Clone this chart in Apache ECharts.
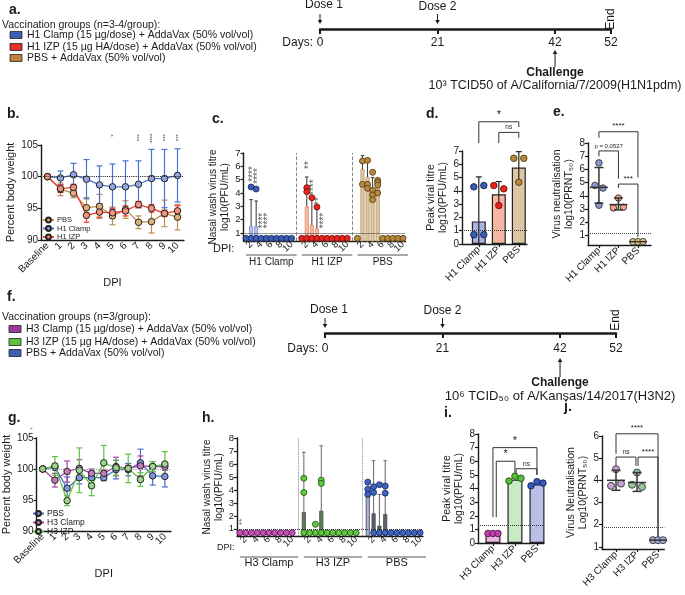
<!DOCTYPE html>
<html>
<head>
<meta charset="utf-8">
<script src="https://cdn.jsdelivr.net/npm/echarts@6.0.0/dist/echarts.min.js"></script>
<style>
html,body{margin:0;padding:0;background:#ffffff;}
#chart{width:685px;height:595px;}
</style>
</head>
<body>
<div id="chart"></div>
<script>
// ======================= DATA =======================
// Timelines (panels a, f)
const timelineTicks = [0, 21, 42, 52];
const doseDays = [0, 21];
const doseNames = ['Dose 1', 'Dose 2'];
const challengeDay = 42;
const endDay = 52;
const groupsA = ['H1 Clamp (15 µg/dose) + AddaVax (50% vol/vol)', 'H1 IZP (15 µg HA/dose) + AddaVax (50% vol/vol)', 'PBS + AddaVax (50% vol/vol)'];
const groupsF = ['H3 Clamp (15 µg/dose) + AddaVax (50% vol/vol)', 'H3 IZP (15 µg HA/dose) + AddaVax (50% vol/vol)', 'PBS + AddaVax (50% vol/vol)'];
const challengeTextA = '10³ TCID50 of A/California/7/2009(H1N1pdm)';
const challengeTextF = '10⁶ TCID₅₀ of A/Kansas/14/2017(H3N2)';

// Panel b – percent body weight, H1
const weightDays = ['Baseline', '1', '2', '3', '4', '5', '6', '7', '8', '9', '10'];
const bPbsMean   = [100, 98.0, 97.4, 95.1, 95.3, 93.8, 94.8, 92.8, 92.9, 94.2, 93.6];
const bPbsSd     = [0, 1.0, 0.7, 1.6, 1.9, 1.4, 1.4, 1.0, 1.8, 2.1, 2.0];
const bClampMean = [100, 99.8, 100.3, 99.6, 98.7, 98.4, 98.4, 98.8, 99.7, 99.7, 100.2];
const bClampSd   = [0, 1.1, 1.8, 3.1, 3.0, 3.6, 4.1, 3.7, 4.6, 4.6, 4.2];
const bIzpMean   = [100, 98.1, 98.3, 93.9, 94.4, 94.3, 94.6, 95.6, 95.0, 94.2, 94.6];
const bIzpSd     = [0, 0.6, 0.5, 1.1, 0.8, 0.7, 0.8, 0.5, 0.6, 0.5, 0.8];
const bStars = [[5, 106.3, '*'], [7, 105.6, '***'], [8, 105.3, '****'], [9, 105.6, '***'], [10, 105.6, '***']];

// Panel c – nasal wash titre, H1
const dpiDays = ['1', '2', '3', '4', '5', '6', '7', '8', '9', '10'];
const cGroups = ['H1 Clamp', 'H1 IZP', 'PBS'];
const cClampBar = [0.6, 1.55, 1.5, 0.6, 0.6, 0.6, 0.6, 0.6, 0.6, 0.6];
const cIzpBar   = [0.6, 3.0, 1.6, 1.35, 0.6, 0.6, 0.6, 0.6, 0.6, 0.6];
const cPbsBar   = [0.6, 5.8, 5.2, 4.25, 4.55, 0.6, 0.6, 0.6, 0.6, 0.6];
const cClampHi  = [null, 3.5, 3.4, null, null, null, null, null, null, null];
const cIzpHi    = [null, 5.2, 3.5, 2.8, null, null, null, null, null, null];
const cPbsHi    = [null, 6.8, 6.3, 5.15, 5.0, null, null, null, null, null];
const cClampPts = [[0.6], [4.45, 0.6], [4.3, 0.6], [0.6], [0.6], [0.6], [0.6], [0.6], [0.6], [0.6]];
const cIzpPts   = [[0.6], [4.4, 4.1, 0.6], [3.65, 0.6], [2.95, 0.6], [0.6], [0.6], [0.6], [0.6], [0.6], [0.6]];
const cPbsPts   = [[0.6], [6.4, 4.65], [6.45, 4.65, 4.35], [5.55, 4.2, 3.85, 3.5], [4.95, 4.8, 4.6, 4.0], [0.6], [0.6], [0.6], [0.6], [0.6]];
const cStars = [[0, 2, 4.85, '****'], [0, 3, 4.7, '****'], [0, 4, 1.35, '****'], [0, 5, 1.35, '****'],
                [1, 2, 5.8, '**'], [1, 3, 3.85, '****'], [1, 4, 3.1, '**'], [1, 5, 1.35, '****']];

// Panel d – peak viral titre, H1
const dGroups = ['H1 Clamp', 'H1 IZP', 'PBS'];
const dMean = [1.7, 3.75, 5.75];
const dLo   = [0, 2.8, 4.55];
const dHi   = [5.05, 4.7, 6.95];
const dPts  = [[4.3, 4.4, 0.7, 0.7], [4.4, 4.15, 2.9], [6.45, 6.45, 4.65]];
const dBrackets = [[0, 2, 9.2, 7.6, 8.8], [1, 2, 8.4, 7.6, 8.0]];
const dBracketLabels = ['*', 'ns'];

// Panel e – virus neutralisation, H1
const eGroups = ['H1 Clamp', 'H1 IZP', 'PBS'];
const eMean = [4.65, 3.35, 0.55];
const eLo   = [3.45, 2.95, 0.55];
const eHi   = [6.15, 3.85, 0.55];
const ePts  = [[6.5, 4.8, 4.6, 3.3], [3.85, 3.1, 3.15], [0.55, 0.55, 0.55]];
const eBrackets = [[0, 2, 8.85, 8.4, 5.4], [0, 1, 7.4, 7.0, 5.3], [1, 2, 4.9, 4.6, 0.9]];
const eBracketLabels = ['****', 'p = 0.0527', '***'];

// Panel g – percent body weight, H3
const gPbsMean   = [100, 100.3, 96.9, 98.6, 98.6, 98.6, 99.9, 99.9, 101.0, 98.9, 98.8];
const gPbsSd     = [0, 0.5, 1.8, 1.0, 1.0, 0.5, 1.5, 1.0, 2.2, 1.5, 1.7];
const gClampMean = [100, 98.2, 99.6, 100.1, 99.3, 99.3, 100.4, 100.1, 100.5, 100.4, 100.4];
const gClampSd   = [0, 1.1, 1.7, 1.4, 0.7, 0.5, 1.5, 0.5, 1.6, 0.8, 0.6];
const gIzpMean   = [100, 100.5, 94.9, 99.8, 97.3, 101.0, 100.2, 100.1, 98.3, 100.4, 100.8];
const gIzpSd     = [0, 1.5, 0.8, 3.6, 1.6, 2.8, 1.2, 2.3, 1.1, 0.8, 2.0];

// Panel h – nasal wash titre, H3
const hGroups = ['H3 Clamp', 'H3 IZP', 'PBS'];
const hClampBar = [null, null, null, null, null, null, null, null, null, null];
const hIzpBar   = [2.3, null, null, 2.4, null, null, null, null, null, null];
const hPbsBar   = [3.7, 2.2, 1.25, 2.15, null, null, null, null, null, null];
const hClampHi  = [null, null, null, null, null, null, null, null, null, null];
const hIzpHi    = [6.9, null, null, 7.4, null, null, null, null, null, null];
const hPbsHi    = [null, 6.25, 3.65, 6.25, null, null, null, null, null, null];
const hClampPts = [[0.7], [0.7], [0.7], [0.7], [0.7], [0.7], [0.7], [0.7], [0.7], [0.7]];
const hIzpPts   = [[4.9, 3.8, 0.7], [0.7], [1.35, 0.7], [4.75, 4.5, 0.7], [0.7], [0.7], [0.7], [0.7], [0.7], [0.7]];
const hPbsPts   = [[4.6, 4.05, 3.65], [4.25, 3.8, 0.7], [4.4, 0.7], [4.3, 3.75, 0.7], [0.7], [0.7], [0.7], [0.7], [0.7], [0.7]];
const hStars = [[0, 1, 1.3, '**']];

// Panel i – peak viral titre, H3
const iGroups = ['H3 Clamp', 'H3 IZP', 'PBS'];
const iMean = [0.7, 4.65, 4.3];
const iPts  = [[0.7, 0.7, 0.7], [4.55, 4.9, 4.75], [4.2, 4.5, 4.4]];
const iBrackets = [[0, 2, 7.0, 1.9, 5.0], [0.15, 1, 6.0, 1.9, 5.15], [1.05, 2, 5.45, 5.1, 5.0]];
const iBracketLabels = ['*', '*', 'ns'];

// Panel j – virus neutralisation, H3
const jGroups = ['H3 Clamp', 'H3 IZP', 'PBS'];
const jMean = [4.0, 3.9, 1.3];
const jLo   = [3.55, 3.5, 1.3];
const jHi   = [4.45, 4.35, 1.3];
const jPts  = [[4.5, 3.75, 3.85], [4.35, 3.8, 3.7], [1.3, 1.3, 1.3]];
const jBrackets = [[0, 2, 6.1, 5.2, 1.45], [0, 0.95, 5.05, 4.65, 4.65], [1.05, 2, 5.05, 4.65, 1.45]];
const jBracketLabels = ['****', 'ns', '****'];

// ======================= STYLE / BUILD =======================
const FONT = "'Liberation Sans', Arial, Helvetica, sans-serif";
const INK = '#1a1a1a';
const grid = [], xAxis = [], yAxis = [], series = [], graphic = [];

function addGrid(left, top, width, height) { grid.push({ left, top, width, height }); return grid.length - 1; }
function axLine(w) { return { show: true, onZero: false, lineStyle: { color: INK, width: w || 1.4 } }; }

function valueY(gi, min, max, o) {
  const ax = { type: 'value', gridIndex: gi, min, max, axisLine: axLine(),
    axisTick: { show: true, length: 3, lineStyle: { color: INK, width: 1.2 } },
    splitLine: { show: false },
    axisLabel: { color: INK, fontFamily: FONT, fontSize: o.fontSize || 10, margin: 3 },
    nameLocation: 'middle', nameTextStyle: { color: INK, fontFamily: FONT, fontSize: o.nameFs || 10.5, lineHeight: 12 } };
  if (o.interval) ax.interval = o.interval;
  if (o.ticks) { ax.axisLabel.customValues = o.ticks; ax.axisTick.customValues = o.ticks; }
  if (o.name) { ax.name = o.name; ax.nameGap = o.nameGap; }
  yAxis.push(ax); return yAxis.length - 1;
}
function catX(gi, data, o) {
  const ax = { type: 'category', gridIndex: gi, data, boundaryGap: true, axisLine: axLine(),
    axisTick: { show: !!o.tick, alignWithLabel: true, length: 3, interval: 0, lineStyle: { color: INK, width: 1.2 } },
    axisLabel: { color: INK, fontFamily: FONT, fontSize: o.fontSize || 10, rotate: o.rotate || 0, interval: 0, margin: o.margin == null ? 4 : o.margin },
    splitLine: { show: false } };
  if (o.formatter) ax.axisLabel.formatter = o.formatter;
  if (o.name) { ax.name = o.name; ax.nameLocation = 'middle'; ax.nameGap = o.nameGap; ax.nameTextStyle = { color: INK, fontFamily: FONT, fontSize: 11 }; }
  xAxis.push(ax); return xAxis.length - 1;
}
function groupX(gi, min, max, groups) {
  xAxis.push({ type: 'value', gridIndex: gi, min, max, axisLine: axLine(),
    axisTick: { show: true, length: 3, customValues: [0, 1, 2], lineStyle: { color: INK, width: 1.2 } },
    axisLabel: { customValues: [0, 1, 2], formatter: (v) => groups[Math.round(v)], rotate: 45, color: INK, fontFamily: FONT, fontSize: 10, margin: 4 },
    splitLine: { show: false } });
}

function errRender(color, cap, lw, capBottom) {
  return function (params, api) {
    const x = api.value(0), lo = api.value(1), hi = api.value(2);
    const a = api.coord([x, lo]), b = api.coord([x, hi]);
    const S = () => ({ stroke: color, lineWidth: lw });
    const ch = [{ type: 'line', shape: { x1: a[0], y1: a[1], x2: b[0], y2: b[1] }, style: S() },
                { type: 'line', shape: { x1: b[0] - cap, y1: b[1], x2: b[0] + cap, y2: b[1] }, style: S() }];
    if (capBottom) ch.push({ type: 'line', shape: { x1: a[0] - cap, y1: a[1], x2: a[0] + cap, y2: a[1] }, style: S() });
    return { type: 'group', children: ch };
  };
}
function meanSdRender(color, halfW, cap, lw) {
  return function (params, api) {
    const x = api.value(0), m = api.value(1), lo = api.value(2), hi = api.value(3);
    const pm = api.coord([x, m]), pl = api.coord([x, lo]), ph = api.coord([x, hi]);
    const S = () => ({ stroke: color, lineWidth: lw });
    const ch = [{ type: 'line', shape: { x1: pm[0] - halfW, y1: pm[1], x2: pm[0] + halfW, y2: pm[1] }, style: S() }];
    if (hi > lo) {
      ch.push({ type: 'line', shape: { x1: pl[0], y1: pl[1], x2: ph[0], y2: ph[1] }, style: S() });
      ch.push({ type: 'line', shape: { x1: ph[0] - cap, y1: ph[1], x2: ph[0] + cap, y2: ph[1] }, style: S() });
      ch.push({ type: 'line', shape: { x1: pl[0] - cap, y1: pl[1], x2: pl[0] + cap, y2: pl[1] }, style: S() });
    }
    return { type: 'group', children: ch };
  };
}
function bracketSeries(gi, rows, labels, fonts) {
  return { type: 'custom', xAxisIndex: gi, yAxisIndex: gi, silent: true, z: 6, data: rows,
    renderItem: function (params, api) {
      const x1 = api.value(0), x2 = api.value(1), y = api.value(2), l1 = api.value(3), l2 = api.value(4);
      const A = api.coord([x1, l1]), B = api.coord([x1, y]), C = api.coord([x2, y]), D = api.coord([x2, l2]);
      const i = params.dataIndex;
      return { type: 'group', children: [
        { type: 'polyline', shape: { points: [A, B, C, D] }, style: { stroke: '#333', lineWidth: 1, fill: null } },
        { type: 'text', x: (B[0] + C[0]) / 2, y: B[1] - 1.5, style: { text: labels[i], fontFamily: FONT, fontSize: fonts[i], fill: INK, align: 'center', verticalAlign: 'bottom' } }] };
    } };
}
function starSeries(gi, rows, fs, color) {
  return { type: 'custom', xAxisIndex: gi, yAxisIndex: gi, silent: true, z: 6,
    data: rows.map(r => [r[0], r[1]]),
    renderItem: function (p, api) {
      const pt = api.coord([api.value(0), api.value(1)]);
      return { type: 'text', x: pt[0] + fs * 0.2, y: pt[1], rotation: Math.PI / 2,
        style: { text: rows[p.dataIndex][2], fontFamily: FONT, fontSize: fs, fill: color, align: 'left', verticalAlign: 'middle' } };
    } };
}

// ---------- timelines ----------
function timeline(gi, left, lineY, cfg, info) {
  grid.push({ left, top: lineY - 20, width: 291, height: 20 });
  xAxis.push({ type: 'value', gridIndex: gi, min: 0, max: 52, axisLine: { show: true, onZero: false, lineStyle: { color: INK, width: 2.5 } },
    axisTick: { show: true, length: 5, customValues: timelineTicks, lineStyle: { color: INK, width: 2 } },
    axisLabel: { customValues: timelineTicks, color: INK, fontFamily: FONT, fontSize: 12, margin: cfg.labelMargin },
    splitLine: { show: false } });
  yAxis.push({ type: 'value', gridIndex: gi, min: 0, max: 1, show: false });
  const data = doseDays.map((d, i) => [d, 0, i]).concat([[challengeDay, 1, 0], [endDay, 2, 0]]);
  series.push({ type: 'custom', xAxisIndex: gi, yAxisIndex: gi, silent: true, z: 5, data,
    renderItem: function (p, api) {
      const pt = api.coord([api.value(0), 0]); const x = pt[0], y = pt[1]; const kind = api.value(1);
      const txt = (t, tx, ty, o) => ({ type: 'text', x: tx, y: ty, style: Object.assign({ text: t, fontFamily: FONT, fontSize: 12, fill: INK, align: 'center', verticalAlign: 'middle' }, o || {}) });
      if (kind === 0) {
        const i = api.value(2);
        const y1 = y + cfg.doseArrow[0], y2 = y + cfg.doseArrow[1];
        return { type: 'group', children: [
          txt(doseNames[i], x + (i === 0 ? 4 : 0), y + cfg.doseTextDy[i]),
          { type: 'line', shape: { x1: x, y1: y1, x2: x, y2: y2 - 3 }, style: { stroke: INK, lineWidth: 1 } },
          { type: 'polygon', shape: { points: [[x - 2.3, y2 - 4], [x + 2.3, y2 - 4], [x, y2]] }, style: { fill: INK } }] };
      } else if (kind === 1) {
        const yt = y + cfg.chArrow[0], yh = y + cfg.chArrow[1];
        return { type: 'group', children: [
          { type: 'line', shape: { x1: x, y1: yt, x2: x, y2: yh + 3 }, style: { stroke: INK, lineWidth: 1 } },
          { type: 'polygon', shape: { points: [[x - 2.3, yh + 4], [x + 2.3, yh + 4], [x, yh]] }, style: { fill: INK } },
          txt('Challenge', x, y + cfg.chDy, { fontWeight: 'bold', fontSize: 12 }),
          txt(info, x, y + cfg.infoDy, { fontSize: cfg.infoFs })] };
      }
      return { type: 'text', x: x, y: y + cfg.endDy, rotation: Math.PI / 2, style: { text: 'End', fontFamily: FONT, fontSize: 12, fill: INK, align: 'center', verticalAlign: 'middle' } };
    } });
}

// ---------- weight panels ----------
function weightPanel(gi, names, means, sds, lineColors, fillColors, refColor) {
  names.forEach((nm, k) => {
    series.push({ type: 'custom', xAxisIndex: gi, yAxisIndex: gi, silent: true, z: 2,
      data: means[k].map((m, i) => [i, m - sds[k][i], m + sds[k][i]]).filter((d, i) => sds[k][i] > 0),
      renderItem: errRender(lineColors[k], 3, 1.2, true) });
    const s = { type: 'line', name: nm, xAxisIndex: gi, yAxisIndex: gi, data: means[k], symbol: 'circle', symbolSize: 6.5,
      lineStyle: { color: lineColors[k], width: 1.3 }, itemStyle: { color: fillColors[k], borderColor: '#222', borderWidth: 1 }, z: 3, silent: true };
    if (k === 0) s.markLine = { silent: true, symbol: ['none', 'none'], label: { show: false }, data: [{ yAxis: 100 }], lineStyle: { type: 'dotted', color: refColor, width: 1.1 } };
    series.push(s);
  });
}

// ---------- titre panels ----------
function titrePanel(cfg) {
  const gi = cfg.gi;
  const cats = [];
  cfg.groups.forEach((g, k) => { dpiDays.forEach(d => cats.push(g + '|' + d)); if (k < cfg.groups.length - 1) cats.push('gap' + k); });
  catX(gi, cats, { rotate: 45, fontSize: cfg.tickFs, margin: 2, tick: false,
    formatter: (v) => { const s = v.split('|'); return (s.length === 2 && (+s[1]) % 2 === 0) ? s[1] : ''; } });
  valueY(gi, cfg.yMin, cfg.yMax, { ticks: cfg.yTicks, name: cfg.yName, nameGap: cfg.nameGap, fontSize: cfg.yFs, nameFs: 10 });
  const barData = cats.map(() => '-');
  cfg.bars.forEach((arr, k) => arr.forEach((v, i) => {
    if (v != null) {
      const col = Array.isArray(cfg.barColors[k]) ? cfg.barColors[k][i] : cfg.barColors[k];
      barData[k * 11 + i] = { value: v, itemStyle: { color: col, borderColor: cfg.barBorders[k], borderWidth: 0.8 } };
    }
  }));
  series.push({ type: 'bar', xAxisIndex: gi, yAxisIndex: gi, data: barData, barWidth: cfg.barWidth, silent: true, z: 2 });
  const errData = [];
  cfg.his.forEach((arr, k) => arr.forEach((h, i) => { if (h != null) errData.push([k * 11 + i, cfg.bars[k][i], h]); }));
  series.push({ type: 'custom', xAxisIndex: gi, yAxisIndex: gi, silent: true, z: 3, data: errData, renderItem: errRender(cfg.errColor, 1.8, 1, false) });
  cfg.pts.forEach((arr, k) => {
    const d = []; arr.forEach((vals, i) => vals.forEach(v => d.push([k * 11 + i, v])));
    const s = { type: 'scatter', xAxisIndex: gi, yAxisIndex: gi, silent: true, z: 4, data: d, symbolSize: cfg.ptSize,
      itemStyle: { color: cfg.ptColors[k], borderColor: cfg.ptBorders[k], borderWidth: 0.8, opacity: 1 } };
    if (k === 0) s.markLine = { silent: true, symbol: ['none', 'none'], label: { show: false }, data: [
      { yAxis: cfg.lod, lineStyle: { type: 'dotted', color: '#333', width: 1 } },
      { xAxis: 'gap0', lineStyle: { type: cfg.divType, color: '#777', width: 0.9 } },
      { xAxis: 'gap1', lineStyle: { type: cfg.divType, color: '#777', width: 0.9 } }] };
    series.push(s);
  });
  series.push(starSeries(gi, cfg.stars.map(r => [r[0] * 11 + r[1] - 1, r[2], r[3]]), cfg.starFs, '#555'));
  series.push({ type: 'custom', xAxisIndex: gi, yAxisIndex: gi, silent: true, data: cfg.groups.map((g, k) => [k * 11, k * 11 + 9]),
    renderItem: function (p, api) {
      const a = api.coord([api.value(0) - 0.5, cfg.yMin]), b = api.coord([api.value(1) + 0.6, cfg.yMin]);
      const y = a[1];
      return { type: 'group', children: [
        { type: 'line', shape: { x1: a[0], y1: y + cfg.lineOff, x2: b[0], y2: y + cfg.lineOff }, style: { stroke: '#555', lineWidth: 1 } },
        { type: 'text', x: (a[0] + b[0]) / 2, y: y + cfg.textOff, style: { text: cfg.groups[p.dataIndex], fontFamily: FONT, fontSize: cfg.groupFs, fill: INK, align: 'center', verticalAlign: 'middle' } }] };
    } });
}

// ---------- peak panels ----------
function peakPanel(cfg) {
  const gi = cfg.gi;
  groupX(gi, cfg.xMin, cfg.xMax, cfg.groups);
  valueY(gi, 0, cfg.yMax, { interval: 1, name: cfg.yName, nameGap: cfg.nameGap });
  series.push({ type: 'bar', xAxisIndex: gi, yAxisIndex: gi, silent: true, z: 2, barWidth: cfg.barWidth,
    data: cfg.means.map((m, k) => ({ value: [k, m], itemStyle: { color: cfg.barColors[k], borderColor: cfg.barBorders[k], borderWidth: 1.2 } })) });
  if (cfg.lo) series.push({ type: 'custom', xAxisIndex: gi, yAxisIndex: gi, silent: true, clip: true, z: 3,
    data: cfg.means.map((m, k) => [k, cfg.lo[k], cfg.hi[k]]), renderItem: errRender('#222', 3, 1.2, false) });
  cfg.pts.forEach((vals, k) => {
    const s = { type: 'scatter', xAxisIndex: gi, yAxisIndex: gi, silent: true, z: 4, symbolSize: cfg.ptSize,
      data: vals.map((v, j) => ({ value: [k, v], symbolOffset: [cfg.jit[k][j], 0] })),
      itemStyle: { color: cfg.ptColors[k], borderColor: cfg.ptBorders[k], borderWidth: 0.9, opacity: 1 } };
    if (k === 0) s.markLine = { silent: true, symbol: ['none', 'none'], label: { show: false }, data: [{ yAxis: cfg.lod }], lineStyle: { type: 'dotted', color: '#333', width: 1 } };
    series.push(s);
  });
  series.push(bracketSeries(gi, cfg.brackets, cfg.labels, cfg.labelFs));
}

// ---------- neutralisation panels ----------
function neutPanel(cfg) {
  const gi = cfg.gi;
  groupX(gi, cfg.xMin, cfg.xMax, cfg.groups);
  valueY(gi, cfg.yMin, cfg.yMax, { ticks: cfg.yTicks, name: cfg.yName, nameGap: cfg.nameGap });
  cfg.pts.forEach((vals, k) => {
    const s = { type: 'scatter', xAxisIndex: gi, yAxisIndex: gi, silent: true, z: 3, symbolSize: cfg.ptSize,
      data: vals.map((v, j) => ({ value: [k, v], symbolOffset: [cfg.jit[k][j], 0] })),
      itemStyle: { color: cfg.ptColors[k], borderColor: '#333', borderWidth: 0.9, opacity: 1 } };
    if (k === 0) s.markLine = { silent: true, symbol: ['none', 'none'], label: { show: false }, data: [{ yAxis: cfg.lod }], lineStyle: { type: 'dotted', color: '#444', width: 1 } };
    series.push(s);
  });
  series.push({ type: 'custom', xAxisIndex: gi, yAxisIndex: gi, silent: true, z: 4,
    data: cfg.means.map((m, k) => [k, m, cfg.lo[k], cfg.hi[k]]), renderItem: meanSdRender('#333', 9, 4.5, 1.5) });
  series.push(bracketSeries(gi, cfg.brackets, cfg.labels, cfg.labelFs));
}

// ======================= LAYOUT =======================
// a: timeline
timeline(0, 320, 29, { labelMargin: 8, doseTextDy: [-24, -22], doseArrow: [-15, -5], chArrow: [38, 21], chDy: 44, infoDy: 57, endDy: -10, infoFs: 12.5 }, challengeTextA);

// b
const gB = addGrid(41, 145, 143, 95);
catX(gB, weightDays, { rotate: 45, fontSize: 10, margin: 4, name: 'DPI', nameGap: 24 });
valueY(gB, 90, 105, { interval: 5, name: 'Percent body weight', nameGap: 24, nameFs: 11 });
weightPanel(gB, ['PBS', 'H1 Clamp', 'H1 IZP'], [bPbsMean, bClampMean, bIzpMean], [bPbsSd, bClampSd, bIzpSd],
  ['#bd8f52', '#4a72d1', '#ef3b2c'], ['#e0b27a', '#93a7e0', '#f2927a'], '#222');
series.push(starSeries(gB, bStars, 6, '#333'));

// c
const gC = addGrid(243.5, 153, 162, 88);
titrePanel({ gi: gC, groups: cGroups, yMin: 0.4, yMax: 7, yTicks: [1, 2, 3, 4, 5, 6, 7], yFs: 9.5, tickFs: 9.5,
  yName: 'Nasal wash virus titre\nlog10(PFU/mL)', nameGap: 12,
  bars: [cClampBar, cIzpBar, cPbsBar], his: [cClampHi, cIzpHi, cPbsHi], pts: [cClampPts, cIzpPts, cPbsPts],
  barColors: ['#b3c0e8', '#f5baa4', '#dfc8a6'], barBorders: ['#7c8fcf', '#e4886a', '#b8955f'], barWidth: 4,
  ptColors: ['#3b5db5', '#e8241c', '#b8893e'], ptBorders: ['#14244f', '#6b0d09', '#4a3510'], ptSize: 6,
  errColor: '#333', lod: 1.0, divType: 'dashed', stars: cStars, starFs: 10, lineOff: 14, textOff: 21, groupFs: 10 });

// d
const gD = addGrid(462, 151, 65, 93);
peakPanel({ gi: gD, groups: dGroups, xMin: -0.84, xMax: 2.41, yMax: 7, yName: 'Peak viral titre\nlog10(PFU/mL)', nameGap: 11,
  means: dMean, lo: dLo, hi: dHi, pts: dPts, jit: [[-5, 5, -5, 5], [-5, 5, 0], [-5, 5, 0]],
  barColors: ['#aab3e3', '#f4b6a0', '#dcc6a5'], barBorders: ['#222', '#222', '#222'], barWidth: 14,
  ptColors: ['#3b5db5', '#e8241c', '#b8893e'], ptBorders: ['#14244f', '#6b0d09', '#4a3510'], ptSize: 6.5, lod: 1.0,
  brackets: dBrackets, labels: dBracketLabels, labelFs: [11, 6.5] });

// e
const gE = addGrid(588, 143, 63, 102);
neutPanel({ gi: gE, groups: eGroups, xMin: -0.56, xMax: 2.67, yMin: 0.3, yMax: 8, yTicks: [1, 2, 3, 4, 5, 6, 7, 8],
  yName: 'Virus neutralisation\nlog10(PRNT₅₀)', nameGap: 13,
  means: eMean, lo: eLo, hi: eHi, pts: ePts, jit: [[0, -4, 4, 0], [0, -5, 5], [-5, 0, 5]],
  ptColors: ['#8a97d3', '#f2a583', '#e5c483'], ptSize: 6.5, lod: 1.2,
  brackets: eBrackets, labels: eBracketLabels, labelFs: [8, 6, 8] });

// f: timeline
timeline(5, 325, 333, { labelMargin: 10, doseTextDy: [-23, -22], doseArrow: [-15, -5], chArrow: [44, 25], chDy: 50, infoDy: 63, endDy: -13, infoFs: 13 }, challengeTextF);

// g
const gG = addGrid(31, 438, 140, 93);
catX(gG, weightDays, { rotate: 45, fontSize: 10, margin: 4, name: 'DPI', nameGap: 27 });
valueY(gG, 90, 105, { interval: 5, name: 'Percent body weight', nameGap: 22, nameFs: 11 });
weightPanel(gG, ['PBS ', 'H3 Clamp', 'H3 IZP'], [gPbsMean, gClampMean, gIzpMean], [gPbsSd, gClampSd, gIzpSd],
  ['#4a6cd0', '#a2459e', '#5dc23e'], ['#7d97de', '#c27bc0', '#9ad88a'], '#999');

// h
const gH = addGrid(237, 438, 186, 98);
titrePanel({ gi: gH, groups: hGroups, yMin: 0.45, yMax: 8, yTicks: [1, 2, 3, 4, 5, 6, 7, 8], yFs: 9.5, tickFs: 9.5,
  yName: 'Nasal wash virus titre\nlog10(PFU/mL)', nameGap: 12,
  bars: [hClampBar, hIzpBar, hPbsBar], his: [hClampHi, hIzpHi, hPbsHi], pts: [hClampPts, hIzpPts, hPbsPts],
  barColors: ['#e2a6d8', '#5f7d56', ['#a6b5e0', '#5a6070', '#5a6070', '#5a6070', '#5a6070', '#5a6070', '#5a6070', '#5a6070', '#5a6070', '#5a6070']],
  barBorders: ['#555', '#444', '#444'], barWidth: 4,
  ptColors: ['#c94fb8', '#5ccb3b', '#3d63c4'], ptBorders: ['#4d1446', '#1f4d12', '#14244f'], ptSize: 6,
  errColor: '#666', lod: 1.0, divType: 'dotted', stars: hStars, starFs: 8, lineOff: 21, textOff: 27, groupFs: 11 });

// i
const gI = addGrid(478, 434, 66, 109);
peakPanel({ gi: gI, groups: iGroups, xMin: -0.68, xMax: 2.32, yMax: 8, yName: 'Peak viral titre\nlog10(PFU/mL)', nameGap: 12,
  means: iMean, lo: null, hi: null, pts: iPts, jit: [[-5, 0, 5], [-6, 0, 6], [-6, 0, 6]],
  barColors: ['#e9b5e2', '#c8ebc3', '#b9c0e8'], barBorders: ['#222', '#222', '#222'], barWidth: 15,
  ptColors: ['#c23fb0', '#55c03a', '#3458c0'], ptBorders: ['#4d1446', '#1f4d12', '#14244f'], ptSize: 6.5, lod: 1.3,
  brackets: iBrackets, labels: iBracketLabels, labelFs: [11, 11, 6.5] });

// j
const gJ = addGrid(602, 436, 62.3, 113);
neutPanel({ gi: gJ, groups: jGroups, xMin: -0.667, xMax: 2.3, yMin: 0.9, yMax: 6, yTicks: [1, 2, 3, 4, 5, 6],
  yName: 'Virus Neutralisation\nLog10(PRNT₅₀)', nameGap: 13,
  means: jMean, lo: jLo, hi: jHi, pts: jPts, jit: [[0, -5, 5], [0, -5, 5], [-5, 0, 5]],
  ptColors: ['#c7a0d3', '#97c79a', '#a4acd9'], ptSize: 7, lod: 1.9,
  brackets: jBrackets, labels: jBracketLabels, labelFs: [8, 6.5, 8] });

// ======================= GRAPHIC TEXT =======================
function T(x, y, text, o) {
  graphic.push({ type: 'text', x, y, silent: true, style: Object.assign({ text, fontFamily: FONT, fontSize: 10.5, fill: INK, align: 'left', verticalAlign: 'middle' }, o || {}) });
}
function R(x, y, w, h, fill) {
  graphic.push({ type: 'rect', silent: true, shape: { x, y, width: w, height: h }, style: { fill, stroke: '#222', lineWidth: 0.8 } });
}
const L = { fontWeight: 'bold', fontSize: 14 };
T(9, 10, 'a.', L); T(7, 114, 'b.', L); T(212, 119, 'c.', L); T(426, 114, 'd.', L); T(553, 112, 'e.', L);
T(7, 297, 'f.', L); T(8, 418, 'g.', L); T(202, 418, 'h.', L); T(444, 413, 'i.', L); T(564, 407, 'j.', L);

T(2, 25, 'Vaccination groups (n=3-4/group):');
const colA = ['#3f5fb0', '#e8302a', '#b8843f'];
groupsA.forEach((g, k) => { const y = [35, 47, 58][k]; R(10, y - 3.5, 12, 7, colA[k]); T(27, y, g); });
T(313, 43, 'Days:', { align: 'right', fontSize: 12 });

T(2, 317, 'Vaccination groups (n=3/group):');
const colF = ['#9b3a9b', '#5cc13b', '#3f5fb0'];
groupsF.forEach((g, k) => { const y = [329, 342, 353][k]; R(9, y - 3.5, 12, 7, colF[k]); T(26, y, g); });
T(318, 349, 'Days:', { align: 'right', fontSize: 12 });

T(213, 249, 'DPI:', { fontSize: 11 });
T(217, 548, 'DPI:', { fontSize: 9 });
T(30, 428, '-', { fontSize: 8 });

// ======================= RENDER =======================
const chart = echarts.init(document.getElementById('chart'), null, { renderer: 'canvas' });
chart.setOption({
  animation: false,
  backgroundColor: '#ffffff',
  textStyle: { fontFamily: FONT },
  grid, xAxis, yAxis, series, graphic,
  legend: [
    { data: ['PBS', 'H1 Clamp', 'H1 IZP'], left: 42, top: 216, orient: 'vertical', itemGap: 0.5, itemWidth: 11, itemHeight: 6, padding: 0, selectedMode: false,
      textStyle: { fontFamily: FONT, fontSize: 7.5, color: INK, lineHeight: 7, padding: [0, 0, 0, -2] } },
    { data: ['PBS ', 'H3 Clamp', 'H3 IZP'], left: 32, top: 509, orient: 'vertical', itemGap: 0, itemWidth: 11, itemHeight: 6, padding: 0, selectedMode: false,
      textStyle: { fontFamily: FONT, fontSize: 8.5, color: INK, lineHeight: 6, padding: [0, 0, 0, -2] } }
  ]
});
</script>
</body>
</html>
